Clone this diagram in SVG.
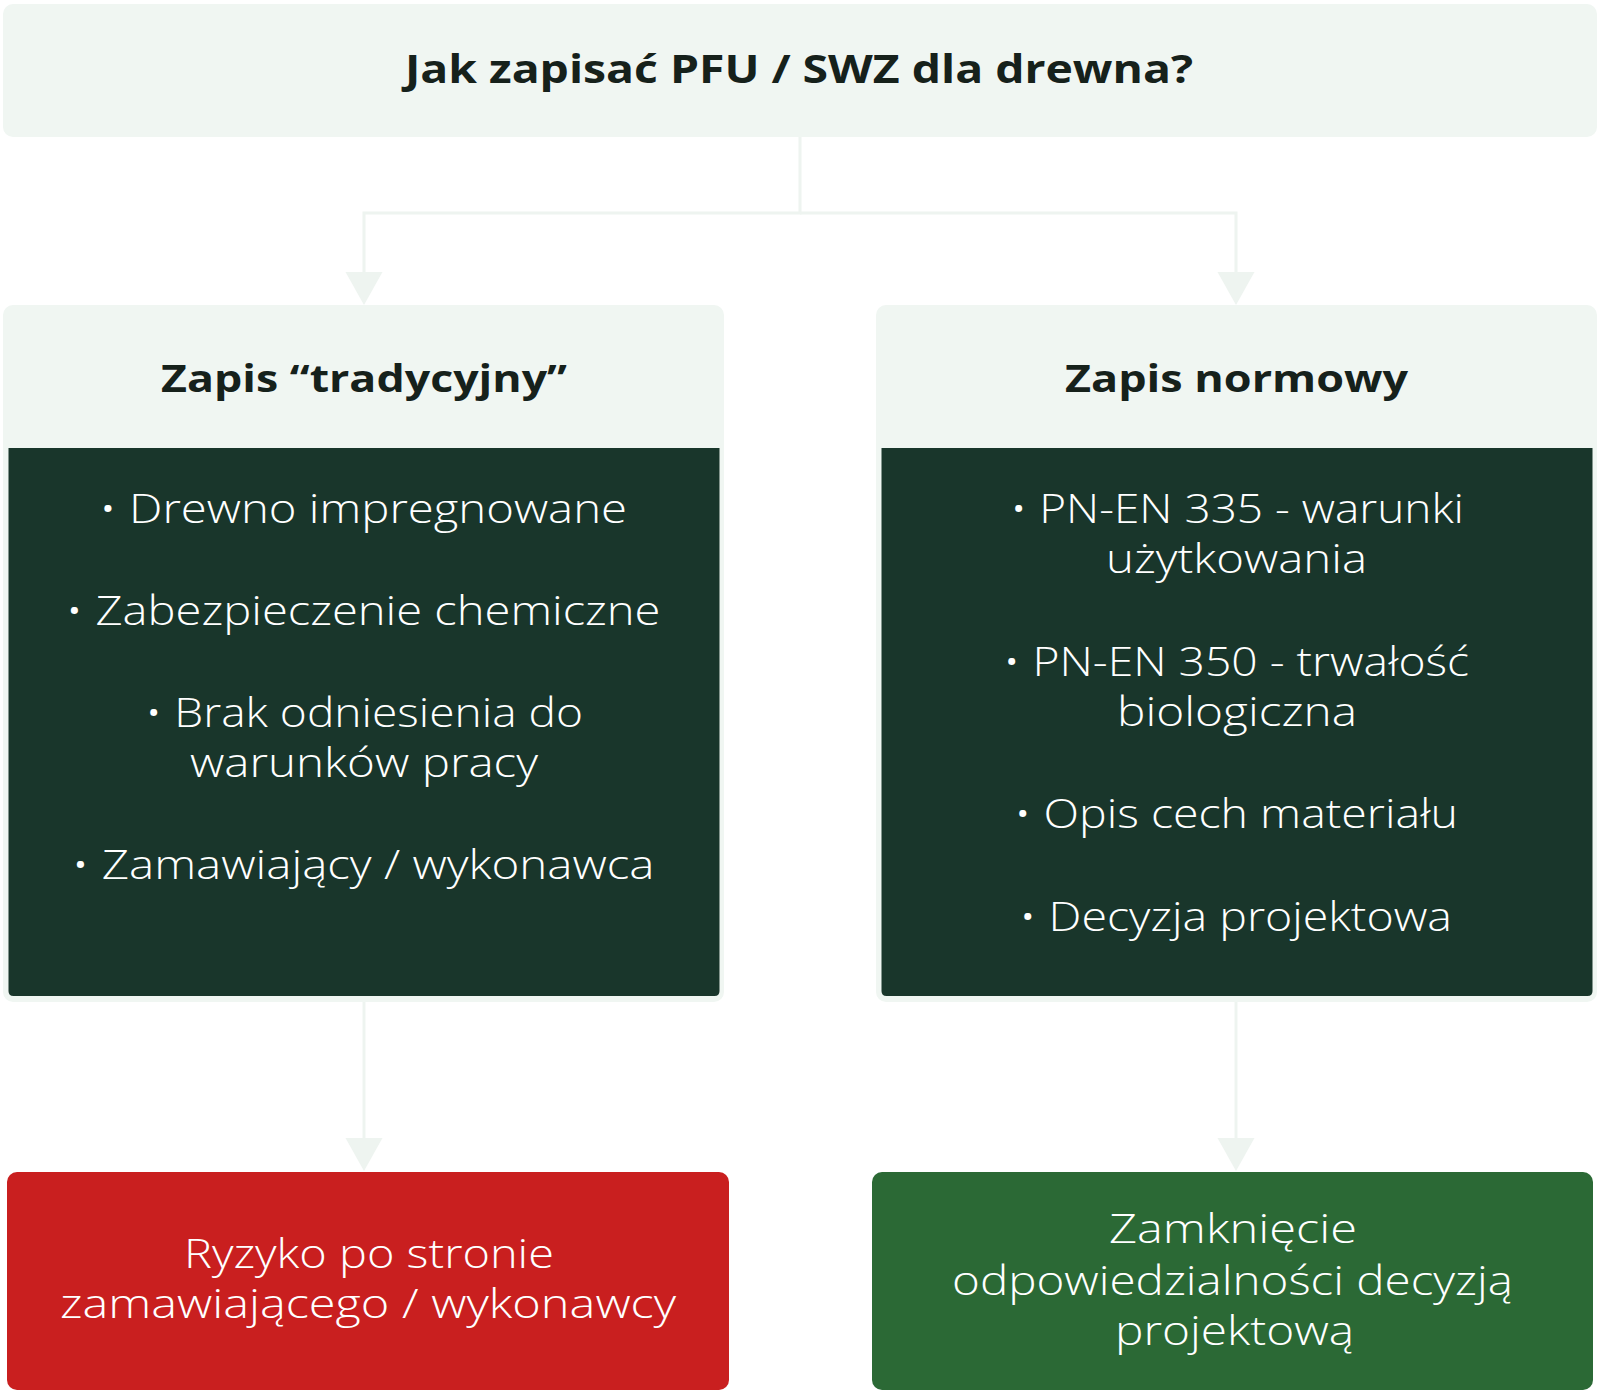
<svg xmlns="http://www.w3.org/2000/svg" width="1600" height="1395" viewBox="0 0 1600 1395">
  <defs>
    <style>
      .light { fill: #f0f6f2; }
      .dark { fill: #19362b; }
      .red { fill: #c91f1f; }
      .green { fill: #2b6935; }
      .conn { fill: none; stroke: #eef4f0; stroke-width: 3; }
      .head { fill: #eef4f0; }
      .t { font-family: "Open Sans", "Liberation Sans", sans-serif; text-anchor: middle; }
      .bold { font-weight: 700; fill: #16211b; }
      .body { font-weight: 300; fill: #ffffff; font-size: 40px; }
    </style>
  </defs>

  <g id="connectors">
    <path class="conn" d="M800,137 L800,213 L364,213 L364,272"/>
    <path class="conn" d="M800,213 L1236,213 L1236,272"/>
    <path class="head" d="M345.5,272 L382.5,272 L364,305 Z"/>
    <path class="head" d="M1217.5,272 L1254.5,272 L1236,305 Z"/>
    <path class="conn" d="M364,1002 L364,1138"/>
    <path class="conn" d="M1236,1002 L1236,1138"/>
    <path class="head" d="M345.5,1138 L382.5,1138 L364,1171 Z"/>
    <path class="head" d="M1217.5,1138 L1254.5,1138 L1236,1171 Z"/>
  </g>

  <g id="node-title">
    <rect class="light" x="3" y="4" width="1594" height="133" rx="10"/>
    <text class="t bold" x="799" y="83" font-size="40" textLength="788" lengthAdjust="spacingAndGlyphs">Jak zapisać PFU / SWZ dla drewna?</text>
  </g>

  <g id="node-traditional">
    <rect class="light" x="3" y="305" width="721" height="697" rx="10"/>
    <path class="dark" d="M8.5,448 H719.5 V991 Q719.5,996 714.5,996 H13.5 Q8.5,996 8.5,991 Z"/>
    <text class="t bold" x="364" y="392" font-size="38" textLength="406" lengthAdjust="spacingAndGlyphs">Zapis “tradycyjny”</text>
    <text class="t body" x="363" y="523" textLength="528" lengthAdjust="spacingAndGlyphs">• Drewno impregnowane</text>
    <text class="t body" x="363" y="625" textLength="595" lengthAdjust="spacingAndGlyphs">• Zabezpieczenie chemiczne</text>
    <text class="t body" x="364" y="727" textLength="438" lengthAdjust="spacingAndGlyphs">• Brak odniesienia do</text>
    <text class="t body" x="364" y="777" textLength="348" lengthAdjust="spacingAndGlyphs">warunków pracy</text>
    <text class="t body" x="363" y="879" textLength="583" lengthAdjust="spacingAndGlyphs">• Zamawiający / wykonawca</text>
  </g>

  <g id="node-normative">
    <rect class="light" x="876" y="305" width="721" height="697" rx="10"/>
    <path class="dark" d="M881.5,448 H1592.5 V991 Q1592.5,996 1587.5,996 H886.5 Q881.5,996 881.5,991 Z"/>
    <text class="t bold" x="1236.5" y="392" font-size="38" textLength="343" lengthAdjust="spacingAndGlyphs">Zapis normowy</text>
    <text class="t body" x="1237" y="523" textLength="454" lengthAdjust="spacingAndGlyphs">• PN-EN 335 - warunki</text>
    <text class="t body" x="1236.5" y="573" textLength="261" lengthAdjust="spacingAndGlyphs">użytkowania</text>
    <text class="t body" x="1236" y="676" textLength="466" lengthAdjust="spacingAndGlyphs">• PN-EN 350 - trwałość</text>
    <text class="t body" x="1237" y="726" textLength="240" lengthAdjust="spacingAndGlyphs">biologiczna</text>
    <text class="t body" x="1236" y="828" textLength="444" lengthAdjust="spacingAndGlyphs">• Opis cech materiału</text>
    <text class="t body" x="1235.5" y="931" textLength="433" lengthAdjust="spacingAndGlyphs">• Decyzja projektowa</text>
  </g>

  <g id="node-risk">
    <rect class="red" x="7" y="1172" width="722" height="218" rx="10"/>
    <text class="t body" x="369" y="1268" textLength="370" lengthAdjust="spacingAndGlyphs">Ryzyko po stronie</text>
    <text class="t body" x="368" y="1318" textLength="616" lengthAdjust="spacingAndGlyphs">zamawiającego / wykonawcy</text>
  </g>

  <g id="node-closure">
    <rect class="green" x="872" y="1172" width="721" height="218" rx="10"/>
    <text class="t body" x="1233" y="1243" textLength="248" lengthAdjust="spacingAndGlyphs">Zamknięcie</text>
    <text class="t body" x="1232.5" y="1295" textLength="561" lengthAdjust="spacingAndGlyphs">odpowiedzialności decyzją</text>
    <text class="t body" x="1234.5" y="1345" textLength="239" lengthAdjust="spacingAndGlyphs">projektową</text>
  </g>
</svg>
